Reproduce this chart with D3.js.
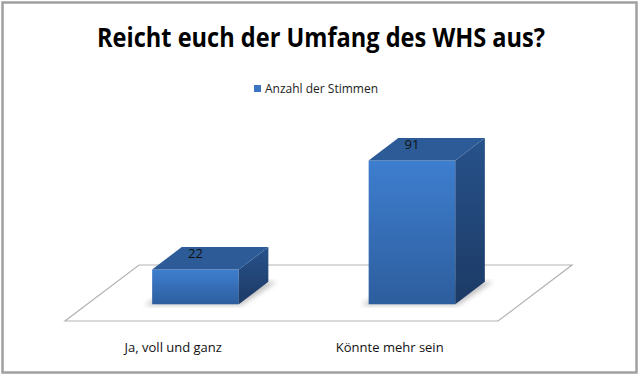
<!DOCTYPE html>
<html>
<head>
<meta charset="utf-8">
<script src="https://cdn.jsdelivr.net/npm/d3@7"></script>
<style>
  body { margin: 0; background: #fff; }
  svg { display: block; }
</style>
</head>
<body>
<svg width="640" height="376"></svg>
<script>
var categories = ["Ja, voll und ganz", "Könnte mehr sein"];
var values = [22, 91];
var seriesName = "Anzahl der Stimmen";
var chartTitle = "Reicht euch der Umfang des WHS aus?";

var svg = d3.select("svg");

// outer frame
svg.append("rect")
   .attr("x", 2.5).attr("y", 2.5)
   .attr("width", 634).attr("height", 370)
   .attr("fill", "#fff")
   .attr("stroke", "#a0a0a0")
   .attr("stroke-width", 2.5);

var defs = svg.append("defs");
var gFront = defs.append("linearGradient").attr("id", "front").attr("x1", 0).attr("y1", 0).attr("x2", 0).attr("y2", 1);
gFront.append("stop").attr("offset", "0%").attr("stop-color", "#3e7ecf");
gFront.append("stop").attr("offset", "100%").attr("stop-color", "#2d5e9e");
var gSide = defs.append("linearGradient").attr("id", "side").attr("x1", 0).attr("y1", 0).attr("x2", 0).attr("y2", 1);
gSide.append("stop").attr("offset", "0%").attr("stop-color", "#27528b");
gSide.append("stop").attr("offset", "100%").attr("stop-color", "#1c3a65");
defs.append("filter").attr("id", "blur")
    .append("feGaussianBlur").attr("stdDeviation", 2.5);

// floor geometry
var floorY = 321, depthX = 74, depthY = 56;
var barFront = 0.30, barBack = 0.70;

var xScale = d3.scaleBand().domain(categories).range([65, 498])
               .paddingInner(0.6).paddingOuter(0.3);
var hScale = d3.scaleLinear().domain([0, 100]).range([0, 158]);

function pt(x, d, h) {
  return [x + d * depthX, floorY - d * depthY - h];
}
function poly(pts) { return pts.map(function(p) { return p.join(","); }).join(" "); }

// floor
var x0 = xScale.range()[0], x1 = xScale.range()[1];
svg.append("polygon")
   .attr("points", poly([pt(x0, 0, 0), pt(x1, 0, 0), pt(x1, 1, 0), pt(x0, 1, 0)]))
   .attr("fill", "#fff")
   .attr("stroke", "#b3b3b3")
   .attr("stroke-width", 1.2);

var bars = svg.selectAll(".bar").data(values).enter().append("g").attr("class", "bar");

// shadow
bars.append("polygon")
    .attr("points", function(d, i) {
      var a = xScale(categories[i]), b = a + xScale.bandwidth();
      return poly([pt(a - 6, barFront - 0.02, 0), pt(b + 4, barFront - 0.02, 0),
                   pt(b + 8, barBack, 0), pt(a, barBack, 0)]);
    })
    .attr("fill", "#999")
    .attr("opacity", 0.6)
    .attr("filter", "url(#blur)");

// front face
bars.append("polygon")
    .attr("points", function(d, i) {
      var a = xScale(categories[i]), b = a + xScale.bandwidth(), h = hScale(d);
      return poly([pt(a, barFront, 0), pt(b, barFront, 0), pt(b, barFront, h), pt(a, barFront, h)]);
    })
    .attr("fill", "url(#front)");

// side face
bars.append("polygon")
    .attr("points", function(d, i) {
      var b = xScale(categories[i]) + xScale.bandwidth(), h = hScale(d);
      return poly([pt(b, barFront, 0), pt(b, barBack, 0), pt(b, barBack, h), pt(b, barFront, h)]);
    })
    .attr("fill", "url(#side)");

// top face
bars.append("polygon")
    .attr("points", function(d, i) {
      var a = xScale(categories[i]), b = a + xScale.bandwidth(), h = hScale(d);
      return poly([pt(a, barFront, h), pt(b, barFront, h), pt(b, barBack, h), pt(a, barBack, h)]);
    })
    .attr("fill", "#2c5b97");

// value labels
bars.append("text")
    .attr("x", function(d, i) { return pt(xScale(categories[i]) + xScale.bandwidth() / 2, barFront, 0)[0]; })
    .attr("y", function(d) { return pt(0, barFront, hScale(d))[1] - 11; })
    .attr("text-anchor", "middle")
    .attr("font-family", "'Open Sans', sans-serif")
    .attr("font-size", 13)
    .attr("fill", "#111")
    .text(function(d) { return d; });

// category labels
svg.selectAll(".cat").data(categories).enter().append("text")
   .attr("class", "cat")
   .attr("x", function(d) { return xScale(d) + xScale.bandwidth() / 2; })
   .attr("y", 352)
   .attr("text-anchor", "middle")
   .attr("font-family", "'Open Sans', sans-serif")
   .attr("font-size", 13)
   .attr("fill", "#111")
   .text(function(d) { return d; });

// title
svg.append("text")
   .attr("x", 321).attr("y", 47)
   .attr("text-anchor", "middle")
   .attr("font-family", "'Open Sans', sans-serif")
   .attr("font-weight", "bold")
   .attr("font-size", 26)
   .attr("textLength", 448)
   .attr("lengthAdjust", "spacingAndGlyphs")
   .attr("fill", "#000")
   .text(chartTitle);

// legend
svg.append("rect")
   .attr("x", 254).attr("y", 85).attr("width", 7).attr("height", 7)
   .attr("fill", "#3a74c2");
svg.append("text")
   .attr("x", 265).attr("y", 93)
   .attr("font-family", "'Open Sans', sans-serif")
   .attr("font-size", 12)
   .attr("fill", "#222")
   .text(seriesName);
</script>
</body>
</html>
